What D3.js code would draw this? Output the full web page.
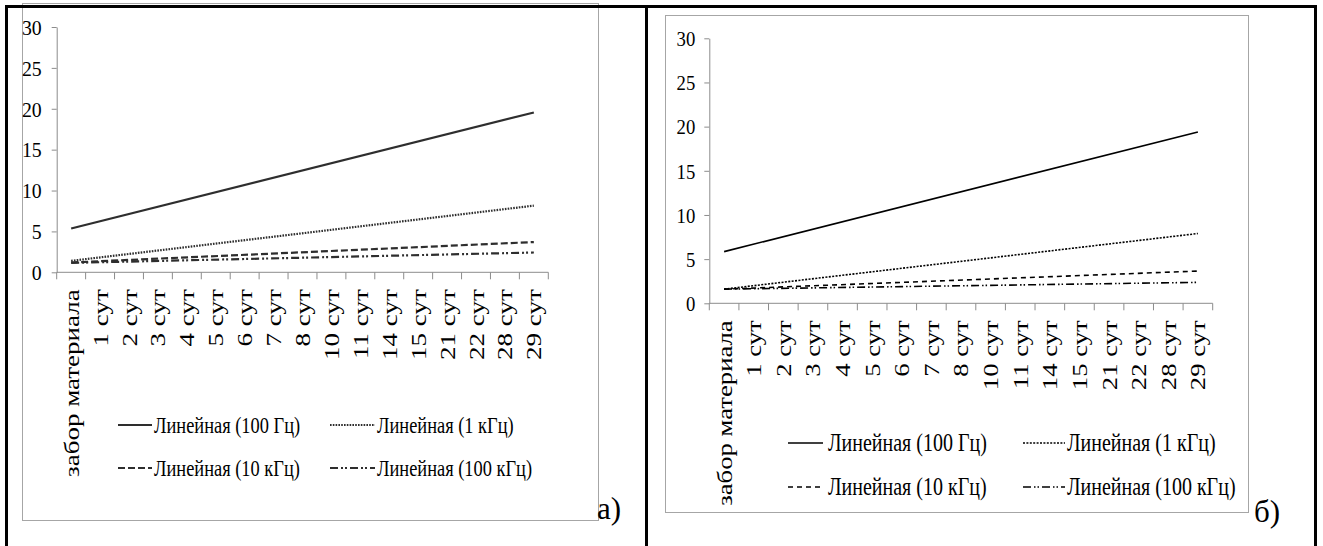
<!DOCTYPE html>
<html>
<head>
<meta charset="utf-8">
<script src="https://cdn.jsdelivr.net/npm/d3@7"></script>
<style>
  html, body { margin: 0; padding: 0; background: #fff; }
  svg { display: block; }
</style>
</head>
<body>
<svg id="fig" width="1323" height="546"></svg>
<script>
// Sampling days (category axis)
const categories = ["забор материала", "1 сут", "2 сут", "3 сут", "4 сут", "5 сут", "6 сут",
  "7 сут", "8 сут", "10 сут", "11 сут", "14 сут", "15 сут", "21 сут", "22 сут", "28 сут", "29 сут"];
const yTickValues = [0, 5, 10, 15, 20, 25, 30];
const seriesNames = ["Линейная (100 Гц)", "Линейная (1 кГц)", "Линейная (10 кГц)", "Линейная (100 кГц)"];
const panelLabels = ["а)", "б)"];

// Linear trend values at the first and last category
const panelA_100Hz = [5.35, 19.55];
const panelA_1kHz = [1.4, 8.15];
const panelA_10kHz = [1.2, 3.7];
const panelA_100kHz = [1.15, 2.42];

const panelB_100Hz = [5.85, 19.4];
const panelB_1kHz = [1.6, 7.9];
const panelB_10kHz = [1.6, 3.65];
const panelB_100kHz = [1.6, 2.37];

const SX = 0.8; // narrow text face
const FONT = "Liberation Serif";

const svg = d3.select("#fig");

function drawPanel(p) {
  const g = svg.append("g");

  // chart area frame
  g.append("rect")
    .attr("x", p.frame[0] + 0.5).attr("y", p.frame[1] + 0.5)
    .attr("width", p.frame[2]).attr("height", p.frame[3])
    .attr("fill", "none").attr("stroke", "#a6a6a6").attr("stroke-width", 1);

  const x = d3.scaleBand().domain(categories).range([p.left, p.right]).paddingInner(0).paddingOuter(0);
  const y = d3.scaleLinear().domain([0, 30]).range([p.bottom, p.top]);
  const cx = c => x(c) + x.bandwidth() / 2;

  // y axis
  const ya = g.append("g").attr("transform", `translate(${p.left},0)`)
    .call(d3.axisLeft(y).tickValues(yTickValues).tickSize(5).tickSizeOuter(0));
  ya.attr("font-family", FONT).attr("font-size", p.yFont);
  ya.select(".domain").attr("stroke", "#8c8c8c");
  ya.selectAll(".tick line").attr("stroke", "#8c8c8c");
  ya.selectAll(".tick text")
    .attr("x", null).attr("dy", "0.33em")
    .attr("transform", `translate(${-p.yLabelGap},0) scale(${p.ySX},1)`)
    .attr("text-anchor", "end")
    .attr("fill", "#000");

  // x axis line with ticks between categories
  const xa = g.append("g").attr("stroke", "#8c8c8c").attr("stroke-width", 1);
  xa.append("line").attr("x1", p.left).attr("x2", p.right).attr("y1", p.bottom).attr("y2", p.bottom);
  const bounds = categories.map(c => x(c)).concat([p.right]);
  xa.selectAll("line.tk").data(bounds).join("line").attr("class", "tk")
    .attr("x1", d => d).attr("x2", d => d)
    .attr("y1", p.bottom).attr("y2", p.bottom + 7);

  // rotated category labels
  g.append("g").attr("font-family", FONT).attr("font-size", p.xFont)
    .selectAll("text").data(categories).join("text")
    .attr("transform", d => `translate(${cx(d)},${p.bottom + p.xLabelGap}) scale(${SX},1) rotate(-90)`)
    .attr("text-anchor", "end").attr("dy", "0.35em")
    .text(d => d);

  // trend lines
  const first = categories[0], last = categories[categories.length - 1];
  const line = d3.line().x(d => cx(d[0])).y(d => y(d[1]));
  p.series.forEach((s, i) => {
    g.append("path")
      .datum([[first, s.values[0]], [last, s.values[1]]])
      .attr("d", line)
      .attr("fill", "none")
      .attr("stroke", p.color)
      .attr("stroke-width", p.lineWidth)
      .attr("stroke-dasharray", p.dash[i]);
  });

  // legend, 2 x 2
  const leg = g.append("g").attr("font-family", FONT).attr("font-size", p.legendFont);
  p.series.forEach((s, i) => {
    const col = p.legendCols[i % 2], row = p.legendRows[Math.floor(i / 2)];
    leg.append("line")
      .attr("x1", col[0]).attr("x2", col[1]).attr("y1", row).attr("y2", row)
      .attr("stroke", p.color).attr("stroke-width", p.lineWidth * 0.8)
      .attr("stroke-dasharray", p.dash[i]);
    leg.append("text")
      .attr("transform", `translate(${col[2]},${row}) scale(${SX},1)`)
      .attr("dy", "0.33em")
      .text(seriesNames[i]);
  });

  // panel letter
  g.append("text")
    .attr("transform", `translate(${p.tag[0]},${p.tag[1]})`)
    .attr("font-family", FONT).attr("font-size", p.tagFont)
    .text(p.tagText);
}

drawPanel({
  frame: [22, 3, 576, 517],
  left: 56.7, right: 548.3, top: 27, bottom: 272.3,
  yFont: 22, ySX: 0.9, yLabelGap: 15, xFont: 27, xLabelGap: 17,
  color: "#2e2e2e", lineWidth: 2.2,
  dash: [null, "1.6,1.2", "7,3", "8,3,2,2,2,3"],
  legendRows: [425, 468],
  legendCols: [[118, 152, 154], [330, 375, 377]],
  legendFont: 23,
  tag: [597, 519], tagFont: 31, tagText: panelLabels[0],
  series: [
    { values: panelA_100Hz }, { values: panelA_1kHz },
    { values: panelA_10kHz }, { values: panelA_100kHz }
  ]
});

drawPanel({
  frame: [665, 15, 583, 497],
  left: 709.3, right: 1212.7, top: 38.3, bottom: 303.3,
  yFont: 22, ySX: 0.85, yLabelGap: 14, xFont: 26.7, xLabelGap: 17,
  color: "#000", lineWidth: 1.6,
  dash: [null, "2,1.4", "5,4", "8,3,1.5,2,1.5,3"],
  legendRows: [443, 487],
  legendCols: [[788, 823, 828], [1023, 1065, 1067]],
  legendFont: 25,
  tag: [1254, 522], tagFont: 31, tagText: panelLabels[1],
  series: [
    { values: panelB_100Hz }, { values: panelB_1kHz },
    { values: panelB_10kHz }, { values: panelB_100kHz }
  ]
});

// table borders, drawn on top
const border = svg.append("g").attr("fill", "#000");
border.append("rect").attr("x", 5).attr("y", 5).attr("width", 1312).attr("height", 3);
border.append("rect").attr("x", 5).attr("y", 5).attr("width", 3).attr("height", 541);
border.append("rect").attr("x", 645).attr("y", 5).attr("width", 3).attr("height", 541);
border.append("rect").attr("x", 1314).attr("y", 5).attr("width", 3).attr("height", 541);
</script>
</body>
</html>
